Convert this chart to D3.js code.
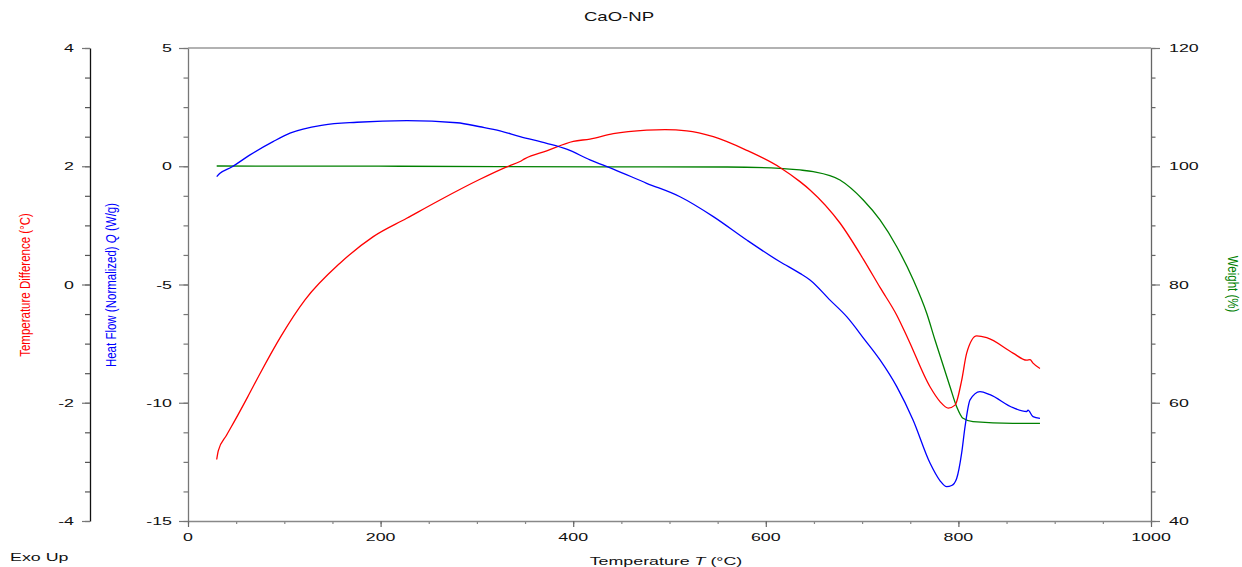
<!DOCTYPE html>
<html>
<head>
<meta charset="utf-8">
<script src="https://cdn.jsdelivr.net/npm/d3@7"></script>
<style>
  body { margin: 0; background: #fff; }
  svg { display: block; font-family: "Liberation Sans", Arial, sans-serif; }
  .lbl { font-size: 11px; fill: #111; }
</style>
</head>
<body>
<script>
// heat flow (blue)
var tempBlue = [29.8, 33.2, 45.4, 64.4, 88.3, 105.9, 140.2, 175.5, 227.4, 279.3, 303.2, 324, 344.8, 372.5, 393.2, 417.4, 441.6, 476.3, 510.9, 545.5, 580.2, 614.7, 635.5, 645.9, 666.7, 684, 703, 718.6, 736, 752.9, 770.5, 781, 787.8, 793, 798.2, 803.4, 806.9, 812.1, 822.4, 832.8, 856.7, 870.9, 872.3, 877.5, 884.7];
var heatFlow = [-0.44, -0.30, -0.03, 0.48, 1.04, 1.40, 1.74, 1.86, 1.93, 1.84, 1.67, 1.50, 1.25, 0.97, 0.72, 0.27, -0.12, -0.72, -1.29, -2.13, -3.12, -4.04, -4.53, -4.81, -5.66, -6.36, -7.35, -8.19, -9.32, -10.73, -12.55, -13.3, -13.55, -13.5, -13.2, -12.12, -11.01, -9.88, -9.53, -9.66, -10.21, -10.37, -10.31, -10.59, -10.66];

// temperature difference (red)
var tempRed = [29.8, 31.5, 40, 49, 62, 75, 96, 121.5, 157.8, 192.4, 227.1, 261.7, 303.2, 331, 344.8, 350, 372.5, 400.1, 417.4, 441.6, 476.3, 495.3, 517.9, 545.5, 580.2, 614.7, 635.5, 645.9, 677, 701.2, 718.6, 736, 748, 770.5, 780.9, 789.5, 796.5, 803.4, 808.6, 819, 829.4, 856.7, 870.9, 874.4, 877.5, 884.7];
var tempDiff = [-2.96, -2.81, -2.55, -2.29, -1.90, -1.50, -0.89, -0.26, 0.36, 0.81, 1.12, 1.43, 1.78, 1.99, 2.08, 2.13, 2.26, 2.42, 2.46, 2.55, 2.61, 2.62, 2.60, 2.50, 2.27, 1.98, 1.74, 1.60, 1.04, 0.43, -0.05, -0.52, -0.93, -1.73, -1.98, -2.09, -2.04, -1.62, -1.16, -0.87, -0.90, -1.16, -1.28, -1.27, -1.33, -1.42];

// weight (green)
var tempGreen = [29.8, 220, 428, 560, 614.7, 635.5, 649.3, 677, 701.2, 718.6, 736, 753.2, 767.1, 775.7, 791.3, 798.2, 804.8, 815.2, 856.7, 884.7];
var weight = [100.04, 100.0, 99.9, 99.87, 99.65, 99.37, 99.08, 97.67, 94.29, 90.91, 86.39, 80.76, 75.13, 70.61, 62.71, 59.33, 57.37, 56.80, 56.52, 56.52];

var xTicks = [0, 200, 400, 600, 800, 1000];
var hfTicks = [5, 0, -5, -10, -15];
var tdTicks = [4, 2, 0, -2, -4];
var wTicks = [120, 100, 80, 60, 40];

drawChart();

function drawChart(){
    var W = 1242, H = 567;
    var mLeft = 188, mRight = 1151, mTop = 48, mBottom = 521;
    var sx = 1.55; // horizontal stretch of the original text

    var svg = d3.select("body").append("svg")
        .attr("width", W)
        .attr("height", H);

    var x = d3.scaleLinear().domain([0, 1000]).range([mLeft, mRight]);
    var yHF = d3.scaleLinear().domain([-15, 5]).range([mBottom, mTop]);
    var yTD = d3.scaleLinear().domain([-4, 4]).range([mBottom, mTop]);
    var yW = d3.scaleLinear().domain([40, 120]).range([mBottom, mTop]);

    //stretched text helper
    function stext(px, py, str, anchor, size){
        return svg.append("text")
            .attr("class", "lbl")
            .attr("transform", "translate(" + px + "," + py + ") scale(" + sx + ",1)")
            .attr("text-anchor", anchor)
            .style("font-size", size + "px")
            .text(str);
    }

    function styleAxis(g, color){
        g.selectAll("path").attr("stroke", color).attr("stroke-width", 1.3);
        g.selectAll("line").attr("stroke", color).attr("stroke-width", 1.2);
    }

    // top border
    svg.append("line")
        .attr("x1", mLeft).attr("x2", mRight)
        .attr("y1", mTop).attr("y2", mTop)
        .attr("stroke", "#999").attr("stroke-width", 1.3);

    // x axis - minor then major
    var xMinor = svg.append("g").attr("transform", "translate(0," + mBottom + ")")
        .call(d3.axisBottom(x).tickValues(d3.range(0, 1001, 50)).tickSize(3).tickFormat("").tickSizeOuter(0));
    styleAxis(xMinor, "#888");
    var xMajor = svg.append("g").attr("transform", "translate(0," + mBottom + ")")
        .call(d3.axisBottom(x).tickValues(xTicks).tickSize(6).tickFormat("").tickSizeOuter(0));
    xMajor.select(".domain").remove();
    styleAxis(xMajor, "#666");
    xTicks.forEach(function(t){ stext(x(t), 541, t, "middle", 11.5); });

    // heat flow axis
    var hfMinor = svg.append("g").attr("transform", "translate(" + mLeft + ",0)")
        .call(d3.axisLeft(yHF).tickValues(d3.range(-15, 5.01, 1.25)).tickSize(4.5).tickFormat("").tickSizeOuter(0));
    styleAxis(hfMinor, "#777");
    var hfMajor = svg.append("g").attr("transform", "translate(" + mLeft + ",0)")
        .call(d3.axisLeft(yHF).tickValues(hfTicks).tickSize(9).tickFormat("").tickSizeOuter(0));
    hfMajor.select(".domain").remove();
    styleAxis(hfMajor, "#777");
    hfTicks.forEach(function(t){ stext(172, yHF(t) + 4, t, "end", 11.5); });

    // temperature difference axis
    var tdMinor = svg.append("g").attr("transform", "translate(90,0)")
        .call(d3.axisLeft(yTD).tickValues(d3.range(-4, 4.01, 0.5)).tickSize(5).tickFormat("").tickSizeOuter(0));
    styleAxis(tdMinor, "#555");
    tdMinor.select(".domain").attr("stroke", "#111");
    var tdMajor = svg.append("g").attr("transform", "translate(90,0)")
        .call(d3.axisLeft(yTD).tickValues(tdTicks).tickSize(8).tickFormat("").tickSizeOuter(0));
    tdMajor.select(".domain").remove();
    styleAxis(tdMajor, "#777");
    tdTicks.forEach(function(t){ stext(74, yTD(t) + 4, t, "end", 11.5); });

    // weight axis
    var wMinor = svg.append("g").attr("transform", "translate(" + mRight + ",0)")
        .call(d3.axisRight(yW).tickValues(d3.range(40, 120.1, 5)).tickSize(4.5).tickFormat("").tickSizeOuter(0));
    styleAxis(wMinor, "#666");
    var wMajor = svg.append("g").attr("transform", "translate(" + mRight + ",0)")
        .call(d3.axisRight(yW).tickValues(wTicks).tickSize(9).tickFormat("").tickSizeOuter(0));
    wMajor.select(".domain").remove();
    styleAxis(wMajor, "#777");
    wTicks.forEach(function(t){ stext(1169, yW(t) + 4, t, "start", 11.5); });

    // lines
    function drawLine(xs, ys, yScale, color){
        var pts = xs.map(function(d, i){ return [d, ys[i]]; });
        svg.append("path")
            .datum(pts)
            .attr("fill", "none")
            .attr("stroke", color)
            .attr("stroke-width", 1.3)
            .attr("d", d3.line()
                .curve(d3.curveMonotoneX)
                .x(function(d){ return x(d[0]); })
                .y(function(d){ return yScale(d[1]); }));
    }
    drawLine(tempGreen, weight, yW, "#008000");
    drawLine(tempRed, tempDiff, yTD, "#ff0000");
    drawLine(tempBlue, heatFlow, yHF, "#0000ff");

    // titles
    stext(619, 21, "CaO-NP", "middle", 12);
    svg.append("text").attr("class", "lbl")
        .attr("transform", "translate(666,565) scale(" + sx + ",1)")
        .attr("text-anchor", "middle")
        .style("font-size", "11.5px")
        .html('Temperature  <tspan font-style="italic">T</tspan>  (°C)');
    stext(10, 561, "Exo Up", "start", 11.5);

    // rotated axis labels
    svg.append("text")
        .attr("transform", "translate(30,285) scale(1.35,1) rotate(-90)")
        .attr("text-anchor", "middle")
        .style("font-size", "11.5px")
        .attr("fill", "#ff0000")
        .text("Temperature Difference (°C)");

    svg.append("text")
        .attr("transform", "translate(116,285) scale(1.35,1) rotate(-90)")
        .attr("text-anchor", "middle")
        .style("font-size", "11.5px")
        .attr("fill", "#0000ff")
        .html('Heat Flow (Normalized)  <tspan font-style="italic">Q</tspan>  (W/g)');

    svg.append("text")
        .attr("transform", "translate(1228,284) scale(1.35,1) rotate(90)")
        .attr("text-anchor", "middle")
        .style("font-size", "11.5px")
        .attr("fill", "#008000")
        .text("Weight (%)");
}
</script>
</body>
</html>
